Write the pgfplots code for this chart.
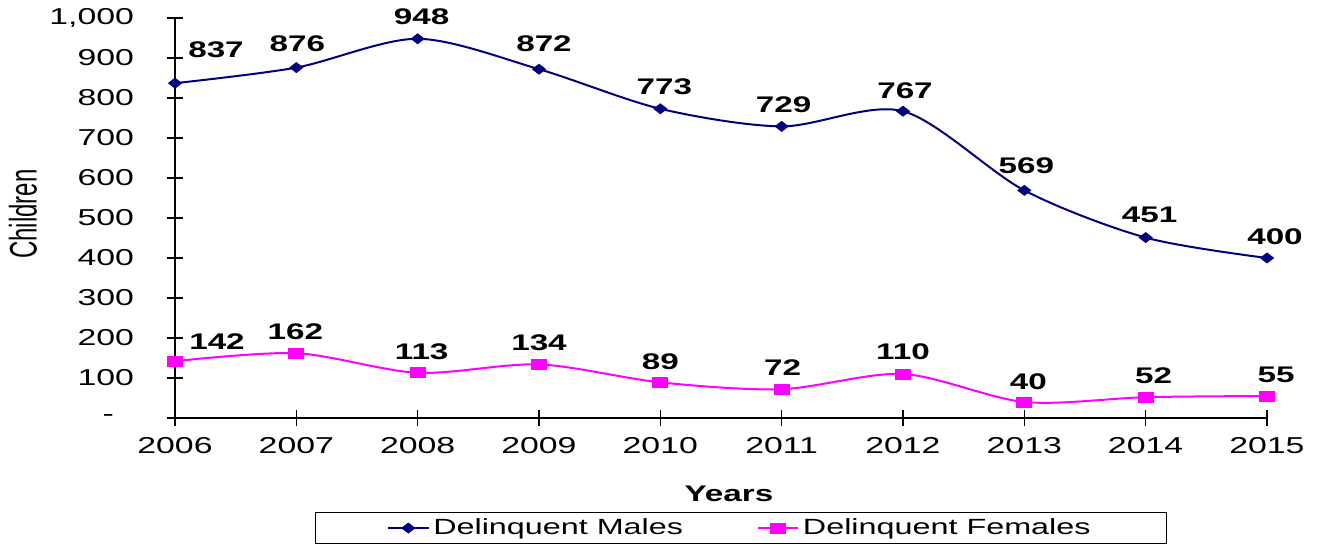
\documentclass[border=0pt]{standalone}
\usepackage{fontspec}
\setmainfont[FakeStretch=1.47]{Liberation Sans}
\newfontfamily\plainsans{Liberation Sans}
\usepackage{pgfplots}
\pgfplotsset{compat=1.18}
\usepackage{pgfplotstable}
\definecolor{navyc}{RGB}{0,0,128}
\definecolor{magc}{RGB}{255,0,255}

\pgfplotstableread{
x y dx dy
2006 837 20.5 16.5
2007 876 0.5 11.8
2008 948 2 11
2009 872 2.5 12.5
2010 773 2 11
2011 729 1 11
2012 767 1 10
2013 569 1 12.3
2014 451 2 11.3
2015 400 4 10.5
}\males

\pgfplotstableread{
x y dx dy
2006 142 21 10
2007 162 -0.5 10.75
2008 113 2 10.4
2009 134 0 10.7
2010 89 0 10.2
2011 72 0.5 10.6
2012 110 0 11
2013 40 2 10
2014 52 4 10.75
2015 55 4.5 10.75
}\females

\begin{document}
\begin{tikzpicture}
\begin{axis}[
  scale only axis, width=546pt, height=200pt,
  xmin=2006, xmax=2015, ymin=0, ymax=1000,
  axis x line=bottom, axis y line=left,
  axis line style={-, line width=0.6pt, black},
  xtick={2006,2007,...,2015}, ytick={0,100,...,1000},
  yticklabels={{-\hspace*{10pt}},100,200,300,400,500,600,700,800,900,{1,000}},
  /pgf/number format/1000 sep={},
  /pgf/number format/assume math mode=true,
  tick align=center, major tick length=8pt,
  tick style={black, line width=0.6pt},
  ticklabel style={font=\fontsize{11.5}{13}\selectfont},
  yticklabel style={anchor=east, xshift=-13pt},
  xticklabel style={anchor=north, yshift=-2pt},
  xlabel={\bfseries Years},
  xlabel style={at={(rel axis cs:0.5,0)}, anchor=center, yshift=-38pt, xshift=4pt, font=\fontsize{11.3}{13}\selectfont},
  ylabel={\scalebox{1}[1.6]{\plainsans Children}},
  ylabel style={at={(rel axis cs:0,0.5)}, anchor=center, yshift=76pt, xshift=2pt, font=\fontsize{12}{14}\selectfont},
  legend columns=2,
  legend style={at={(rel axis cs:0.5,0)}, anchor=north, xshift=10pt, yshift=-47pt,
    draw=black, line width=0.6pt, font=\fontsize{11}{12}\selectfont,
    inner xsep=36pt, inner ysep=1pt,
    /tikz/every even column/.append style={column sep=35pt}},
  legend image code/.code={\draw[mark repeat=2,mark phase=2,#1] plot coordinates {(0cm,0cm) (0.35cm,0cm) (0.7cm,0cm)};},
  legend cell align=left,
  clip=false,
  visualization depends on={\thisrow{dx} \as \dx},
  visualization depends on={\thisrow{dy} \as \dy},
  nodes near coords,
  every node near coord/.append style={anchor=center, xshift=\dx pt, yshift=\dy pt,
    font=\fontsize{11.3}{14}\selectfont\bfseries, text=black},
]
\addplot[color=navyc, line width=1pt, smooth, mark=diamond*, mark size=2.5pt,
  mark options={xscale=1.73, fill=navyc, line width=0.4pt}] table[x=x,y=y] {\males};
\addlegendentry{Delinquent Males}
\addplot[color=magc, line width=1pt, smooth, mark=square*, mark size=2.5pt,
  mark options={xscale=1.5, fill=magc, line width=0.4pt}] table[x=x,y=y] {\females};
\addlegendentry{Delinquent Females}
\end{axis}
\path (current axis.south west) ++(-87.5pt,-63pt) coordinate (bbA);
\path (current axis.north east) ++(27.5pt,9pt) coordinate (bbB);
\path (bbA) rectangle (bbB);
\end{tikzpicture}
\end{document}
